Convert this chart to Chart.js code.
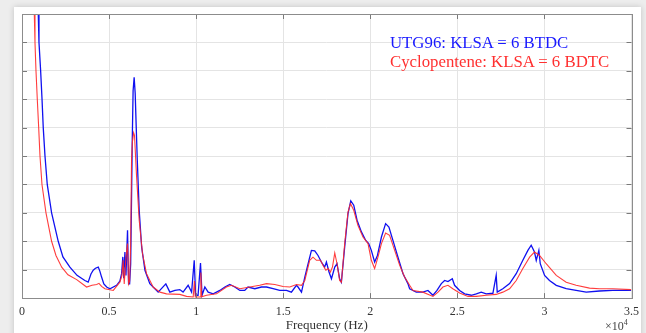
<!DOCTYPE html>
<html>
<head>
<meta charset="utf-8">
<script src="https://cdn.jsdelivr.net/npm/chart.js@4.4.1/dist/chart.umd.min.js"></script>
<style>
  html, body { margin: 0; padding: 0; }
  body { width: 646px; height: 333px; background: #ededed; position: relative; overflow: hidden; font-family: "Liberation Serif", "Times New Roman", serif; }
  .card { position: absolute; left: 14px; top: 7px; width: 627px; height: 340px; background: #fff; box-shadow: 0 0 6px rgba(0,0,0,0.18); }
  #spectrum { position: absolute; left: 0; top: 0; }
  .legend { position: absolute; left: 390px; top: 33px; font-size: 16.8px; line-height: 19px; white-space: nowrap; }
  .legend .utg { color: #1a1aff; }
  .legend .cyc { color: #ff3030; }
  .mult { position: absolute; left: 605px; top: 318px; font-size: 12px; color: #444; }
  .mult sup { font-size: 8px; }
</style>
</head>
<body>
<div class="card"></div>
<canvas id="spectrum" width="646" height="333"></canvas>
<div class="legend">
  <div class="utg">UTG96: KLSA = 6 BTDC</div>
  <div class="cyc">Cyclopentene: KLSA = 6 BDTC</div>
</div>
<div class="mult">&times;10<sup>4</sup></div>
<script>
// frequency in units of 1e4 Hz, amplitude in grid units (axis has no labels)
const freqBlue = [0.075, 0.085, 0.0935, 0.0975, 0.107, 0.115, 0.122, 0.132, 0.145, 0.170, 0.208, 0.235, 0.275, 0.316, 0.361, 0.380,
  0.396, 0.409, 0.422, 0.438, 0.447, 0.457, 0.470, 0.486, 0.505, 0.543, 0.562, 0.572, 0.579, 0.584, 0.591, 0.597, 0.606, 0.612,
  0.618, 0.624, 0.629, 0.633, 0.638, 0.644, 0.650, 0.656, 0.662, 0.673, 0.687, 0.706, 0.734, 0.782, 0.826, 0.849, 0.878, 0.906,
  0.925, 0.954, 0.974, 0.989, 0.997, 1.011, 1.025, 1.034, 1.050, 1.069, 1.098, 1.136, 1.165, 1.193, 1.222, 1.251, 1.279, 1.298,
  1.337, 1.375, 1.404, 1.442, 1.480, 1.519, 1.547, 1.576, 1.585, 1.605, 1.624, 1.643, 1.662, 1.681, 1.700, 1.719, 1.738, 1.748,
  1.763, 1.777, 1.796, 1.809, 1.824, 1.834, 1.853, 1.872, 1.888, 1.905, 1.924, 1.949, 1.974, 1.991, 2.006, 2.025, 2.041, 2.064,
  2.088, 2.107, 2.130, 2.159, 2.188, 2.216, 2.226, 2.264, 2.302, 2.331, 2.360, 2.383, 2.408, 2.427, 2.446, 2.471, 2.484, 2.513,
  2.542, 2.580, 2.609, 2.637, 2.666, 2.704, 2.723, 2.729, 2.761, 2.800, 2.838, 2.876, 2.905, 2.924, 2.943, 2.953, 2.968, 2.976,
  3.001, 3.029, 3.068, 3.125, 3.182, 3.240, 3.316, 3.392, 3.498];
const ampBlue = [16, 12, 10, 9, 8, 7, 6, 5, 4, 3, 2, 1.45, 1.09, 0.8, 0.62, 0.56,
  0.85, 0.98, 1.05, 1.09, 0.95, 0.74, 0.5, 0.39, 0.33, 0.45, 0.6, 0.86, 1.45, 0.7, 1.62, 0.8, 2.39, 0.5,
  0.5, 1.2, 3.5, 5.5, 7.3, 7.77, 7.2, 6.0, 4.85, 3.09, 1.8, 0.98, 0.51, 0.21, 0.5, 0.21, 0.27, 0.3,
  0.21, 0.45, 0.21, 1.33, 0.1, 0.1, 1.23, 0.1, 0.39, 0.21, 0.15, 0.27, 0.39, 0.48, 0.39, 0.27, 0.27, 0.39,
  0.33, 0.39, 0.39, 0.33, 0.27, 0.27, 0.21, 0.45, 0.39, 0.21, 0.74, 1.21, 1.68, 1.66, 1.5, 1.27, 1.09, 1.27,
  0.92, 0.68, 1.09, 1.21, 0.68, 0.56, 1.8, 2.97, 3.42, 3.27, 2.74, 2.33, 2.03, 1.92, 1.68, 1.27, 1.5, 2.15,
  2.62, 2.5, 2.03, 1.44, 0.86, 0.51, 0.33, 0.21, 0.21, 0.27, 0.1, 0.27, 0.51, 0.62, 0.58, 0.68, 0.45, 0.27,
  0.15, 0.1, 0.15, 0.21, 0.15, 0.17, 0.8, 0.21, 0.33, 0.51, 0.86, 1.33, 1.68, 1.86, 1.62, 1.33, 1.68, 1.21,
  0.8, 0.62, 0.45, 0.33, 0.27, 0.21, 0.25, 0.27, 0.27];

const freqRed = [0.055, 0.063, 0.0706, 0.0746, 0.0803, 0.0878, 0.0958, 0.1033, 0.1147, 0.1377, 0.170, 0.195, 0.228, 0.264, 0.314,
  0.371, 0.402, 0.429, 0.442, 0.457, 0.476, 0.524, 0.562, 0.574, 0.581, 0.587, 0.597, 0.606, 0.612, 0.618, 0.624, 0.629, 0.634,
  0.641, 0.646, 0.658, 0.673, 0.692, 0.715, 0.753, 0.792, 0.830, 0.906, 0.945, 0.983, 0.990, 0.995, 1.024, 1.027, 1.032, 1.060,
  1.117, 1.174, 1.203, 1.251, 1.308, 1.365, 1.404, 1.452, 1.499, 1.538, 1.576, 1.605, 1.624, 1.652, 1.671, 1.691, 1.714, 1.729,
  1.745, 1.758, 1.771, 1.783, 1.796, 1.809, 1.824, 1.834, 1.853, 1.872, 1.886, 1.905, 1.929, 1.958, 1.987, 2.006, 2.025, 2.044,
  2.064, 2.088, 2.111, 2.140, 2.169, 2.197, 2.226, 2.245, 2.302, 2.360, 2.389, 2.417, 2.446, 2.474, 2.513, 2.561, 2.609, 2.666,
  2.723, 2.761, 2.800, 2.838, 2.876, 2.915, 2.943, 2.972, 3.010, 3.068, 3.125, 3.182, 3.259, 3.316, 3.392, 3.498];
const ampRed = [16, 12, 10, 9, 8, 7, 6, 5, 4, 3, 2, 1.5, 1.09, 0.82, 0.65,
  0.39, 0.45, 0.48, 0.52, 0.41, 0.33, 0.27, 0.56, 0.8, 1.33, 0.5, 1.44, 1.92, 0.5, 0.6, 1.9, 4.85, 5.5,
  5.82, 5.73, 4.27, 2.74, 1.56, 0.86, 0.39, 0.21, 0.15, 0.13, 0.06, 0.04, 0.6, 0.04, 0.04, 0.9, 0.05, 0.1,
  0.15, 0.39, 0.45, 0.33, 0.39, 0.45, 0.51, 0.48, 0.41, 0.39, 0.48, 0.45, 0.62, 1.33, 1.44, 1.33, 1.33, 1.15,
  0.98, 1.04, 0.92, 1.1, 1.59, 1.21, 0.62, 0.56, 1.92, 3.03, 3.33, 3.09, 2.56, 2.15, 1.92, 1.33, 1.04, 1.44,
  1.92, 2.29, 2.21, 1.68, 1.15, 0.74, 0.45, 0.27, 0.21, 0.06, 0.21, 0.39, 0.45, 0.33, 0.18, 0.06, 0.06, 0.1,
  0.13, 0.21, 0.33, 0.62, 1.04, 1.44, 1.62, 1.5, 1.21, 0.8, 0.56, 0.45, 0.35, 0.33, 0.33, 0.3];

const xTicks = [0, 0.5, 1, 1.5, 2, 2.5, 3, 3.5];
const xTickLabels = ['0', '0.5', '1', '1.5', '2', '2.5', '3', '3.5'];

const toPoints = (xs, ys) => xs.map((x, i) => ({ x: x, y: ys[i] }));

// MATLAB style box with inward tick marks
const boxPlugin = {
  id: 'boxTicks',
  afterDatasetsDraw(chart) {
    const { ctx, chartArea: a, scales } = chart;
    ctx.save();
    ctx.strokeStyle = '#7a7a7a';
    ctx.lineWidth = 1;
    ctx.beginPath();
    scales.y.ticks.forEach(t => {
      const py = Math.round(scales.y.getPixelForValue(t.value)) + 0.5;
      ctx.moveTo(a.left, py); ctx.lineTo(a.left + 5, py);
      ctx.moveTo(a.right, py); ctx.lineTo(a.right - 5, py);
    });
    scales.x.ticks.forEach(t => {
      const px = Math.round(scales.x.getPixelForValue(t.value)) + 0.5;
      ctx.moveTo(px, a.bottom); ctx.lineTo(px, a.bottom - 5);
      ctx.moveTo(px, a.top); ctx.lineTo(px, a.top + 5);
    });
    ctx.stroke();
    ctx.strokeStyle = '#8c8c8c';
    ctx.strokeRect(Math.round(a.left) + 0.5, Math.round(a.top) + 0.5, Math.round(a.right - a.left), Math.round(a.bottom - a.top));
    ctx.restore();
  }
};

new Chart(document.getElementById('spectrum'), {
  type: 'scatter',
  data: {
    datasets: [
      {
        label: 'Cyclopentene: KLSA = 6 BDTC',
        data: toPoints(freqRed, ampRed),
        showLine: true,
        borderColor: 'rgba(255, 40, 40, 0.9)',
        borderWidth: 1.1,
        pointRadius: 0,
        tension: 0
      },
      {
        label: 'UTG96: KLSA = 6 BTDC',
        data: toPoints(freqBlue, ampBlue),
        showLine: true,
        borderColor: '#1010f0',
        borderWidth: 1.3,
        pointRadius: 0,
        tension: 0
      }
    ]
  },
  options: {
    responsive: false,
    animation: false,
    layout: { padding: { left: 22, top: 14, right: 14, bottom: 0 } },
    plugins: { legend: { display: false }, tooltip: { enabled: false } },
    scales: {
      x: {
        type: 'linear',
        min: 0,
        max: 3.5,
        afterBuildTicks: s => { s.ticks = xTicks.map(v => ({ value: v })); },
        ticks: {
          color: '#333',
          padding: 7,
          callback: (v) => xTickLabels[xTicks.indexOf(v)] ?? String(v),
          font: { family: "'Liberation Serif', serif", size: 12 }
        },
        grid: { color: '#e4e4e4', drawTicks: false },
        border: { display: false },
        title: {
          display: true,
          text: 'Frequency (Hz)',
          color: '#333',
          padding: { top: -7, bottom: 0.5 },
          font: { family: "'Liberation Serif', serif", size: 13, lineHeight: 1 }
        }
      },
      y: {
        min: 0,
        max: 10,
        ticks: { stepSize: 1, display: false },
        grid: { color: '#e4e4e4', drawTicks: false },
        border: { display: false }
      }
    }
  },
  plugins: [boxPlugin]
});
</script>
</body>
</html>
